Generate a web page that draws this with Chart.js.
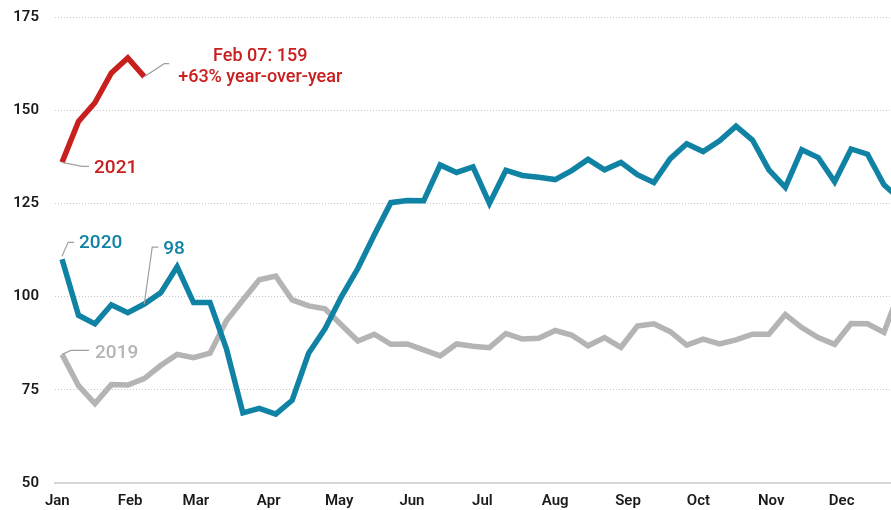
<!DOCTYPE html>
<html>
<head>
<meta charset="utf-8">
<script src="https://cdn.jsdelivr.net/npm/chart.js@4"></script>
<style>
  html, body { margin: 0; padding: 0; background: #fff; }
  #wrap { width: 891px; height: 510px; position: relative; }
</style>
</head>
<body>
<div id="wrap"><canvas id="myChart"></canvas></div>
<script>
// week positions, as day of the year (first week ends Jan 3)
const weekDays = [2, 9, 16, 23, 30, 37, 44, 51, 58, 65, 72, 79, 86, 93, 100, 107, 114, 121, 128, 135,
  142, 149, 156, 163, 170, 177, 184, 191, 198, 205, 212, 219, 226, 233, 240, 247, 254, 261, 268, 275,
  282, 289, 296, 303, 310, 317, 324, 331, 338, 345, 352, 359]

// month ticks
const monthStarts = [0, 31, 59, 90, 120, 151, 181, 212, 243, 273, 304, 334]
const monthLabels = ['Jan', 'Feb', 'Mar', 'Apr', 'May', 'Jun', 'Jul', 'Aug', 'Sep', 'Oct', 'Nov', 'Dec']

// y ticks
const yTicks = [50, 75, 100, 125, 150, 175]

// series values
const values2021 = [136, 147, 152, 160, 164, 159]
const values2020 = [110, 95, 92.7, 97.8, 95.7, 98, 101, 108, 98.4, 98.4,
  86, 68.8, 70, 68.5, 72.2, 84.8, 91.4, 100, 107.6, 116.6,
  125.2, 125.8, 125.7, 135.3, 133.3, 134.8, 125, 133.9, 132.5, 132,
  131.4, 133.8, 136.8, 134, 136, 132.7, 130.6, 137, 141, 138.9,
  141.8, 145.7, 142, 134, 129.3, 139.4, 137.3, 130.8, 139.6, 138.2,
  130, 126]
const values2019 = [84.5, 76.1, 71.3, 76.4, 76.3, 78, 81.5, 84.5, 83.6, 84.8,
  93.5, 99.1, 104.5, 105.5, 99.1, 97.5, 96.7, 92.4, 88.1, 89.9,
  87.2, 87.3, 85.7, 84.1, 87.3, 86.7, 86.3, 90.1, 88.6, 88.8,
  90.9, 89.7, 86.8, 89, 86.4, 92.1, 92.7, 90.6, 87, 88.6,
  87.3, 88.4, 89.9, 89.9, 95.2, 91.7, 89, 87.2, 92.8, 92.7,
  90.4, 102]

const RED = '#c8201e'
const TEAL = '#1083a4'
const GRAY = '#b4b4b4'
const FONT = 'Roboto, "Liberation Sans", sans-serif'

const toPoints = (vals) => vals.map((v, i) => ({ x: weekDays[i], y: v }))

// text labels with small leader lines
const labelPlugin = {
  id: 'labels',
  afterDatasetsDraw(chart) {
    const ctx = chart.ctx
    const p21 = chart.getDatasetMeta(0).data
    const p20 = chart.getDatasetMeta(1).data
    const p19 = chart.getDatasetMeta(2).data

    const leader = (pts) => {
      ctx.save()
      ctx.strokeStyle = '#a0a0a0'
      ctx.lineWidth = 1.2
      ctx.beginPath()
      ctx.moveTo(pts[0][0], pts[0][1])
      for (let i = 1; i < pts.length; i++) ctx.lineTo(pts[i][0], pts[i][1])
      ctx.stroke()
      ctx.restore()
    }
    const text = (str, x, y, color, size, align) => {
      ctx.save()
      ctx.fillStyle = color
      ctx.font = '500 ' + size + 'px ' + FONT
      ctx.textAlign = align || 'left'
      ctx.textBaseline = 'alphabetic'
      ctx.fillText(str, x, y)
      ctx.restore()
    }

    // 2021 start
    const a = p21[0]
    leader([[a.x, a.y], [a.x + 20, a.y + 4], [a.x + 27, a.y + 4]])
    text('2021', a.x + 32, a.y + 11, RED, 19)

    // 2021 last point
    const b = p21[p21.length - 1]
    leader([[b.x, b.y], [b.x + 20, b.y - 13], [b.x + 25, b.y - 13]])
    text('Feb 07: ' + values2021[values2021.length - 1], b.x + 116, b.y - 16, RED, 18, 'center')
    text('+63% year-over-year', b.x + 116, b.y + 5, RED, 18, 'center')

    // 2020 start
    const c = p20[0]
    leader([[c.x, c.y - 3], [c.x + 6, c.y - 17], [c.x + 12, c.y - 17]])
    text('2020', c.x + 17, c.y - 11, TEAL, 19)

    // 2020 at same week
    const d = p20[5]
    leader([[d.x, d.y], [d.x + 8, d.y - 57], [d.x + 14, d.y - 57]])
    text('' + values2020[5], d.x + 19, d.y - 50, TEAL, 19)

    // 2019 start
    const e = p19[0]
    leader([[e.x, e.y], [e.x + 9, e.y - 4], [e.x + 27, e.y - 4]])
    text('2019', e.x + 33, e.y + 4, GRAY, 19)
  }
}

const ctx = document.getElementById('myChart').getContext('2d')
const chart = new Chart(ctx, {
  type: 'line',
  data: {
    datasets: [
      { label: '2021', data: toPoints(values2021), borderColor: RED },
      { label: '2020', data: toPoints(values2020), borderColor: TEAL },
      { label: '2019', data: toPoints(values2019), borderColor: GRAY }
    ]
  },
  options: {
    responsive: true,
    maintainAspectRatio: false,
    animation: false,
    layout: { padding: { top: 17, left: 0, right: 0, bottom: 0 } },
    elements: {
      line: { borderWidth: 5.5, tension: 0, fill: false },
      point: { radius: 0, hoverRadius: 0 }
    },
    plugins: {
      legend: { display: false },
      tooltip: { enabled: false }
    },
    scales: {
      x: {
        type: 'linear',
        min: -1,
        max: 355,
        afterBuildTicks: (scale) => {
          scale.ticks = monthStarts.map(v => ({ value: v }))
        },
        afterFit: (scale) => { scale.height = 27 },
        ticks: {
          autoSkip: false,
          maxRotation: 0,
          padding: 9,
          color: '#1a1a1a',
          font: { family: FONT, size: 15, weight: '600' },
          callback: (value) => monthLabels[monthStarts.indexOf(value)]
        },
        grid: { display: false, drawTicks: false },
        border: { display: true, color: '#d6d6d6', width: 2 }
      },
      y: {
        min: 50,
        max: 175,
        afterBuildTicks: (scale) => {
          scale.ticks = yTicks.map(v => ({ value: v }))
        },
        afterFit: (scale) => {
          scale.width = 55
          scale.paddingTop = 0
          scale.paddingBottom = 0
        },
        ticks: {
          padding: 16,
          color: '#1a1a1a',
          font: { family: FONT, size: 15, weight: '600' }
        },
        grid: {
          drawTicks: false,
          lineWidth: 1,
          color: (c) => c.tick && c.tick.value === 50 ? 'rgba(0,0,0,0)' : '#c8c8c8'
        },
        border: { display: false, dash: [1, 2] }
      }
    }
  },
  plugins: [labelPlugin]
})
</script>
</body>
</html>
